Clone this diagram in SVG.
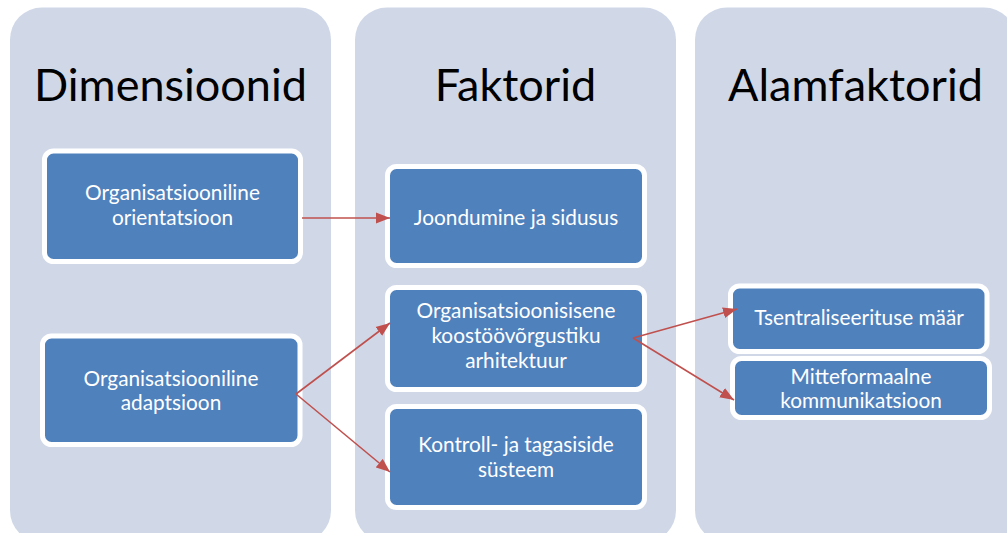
<svg xmlns="http://www.w3.org/2000/svg" width="1007" height="533" viewBox="0 0 1007 533">
<style>
.col{fill:#d0d8e8}
.title{font-family:Lato,"Open Sans",sans-serif;font-size:45px;fill:#000;text-anchor:middle}
.box{fill:#4f81bd;stroke:#fff;stroke-width:5}
.lbl{font-family:Lato,"Open Sans",sans-serif;font-size:20.8px;fill:#fff;text-anchor:middle}
.con{stroke:#c0504d;stroke-width:1.6;fill:none;marker-end:url(#ah)}
</style>
<defs>
<marker id="ah" markerUnits="userSpaceOnUse" markerWidth="14" markerHeight="12" refX="14" refY="6" orient="auto">
<path d="M0,0.5 L14,6 L0,11.5 Z" fill="#c0504d"/>
</marker>
</defs>
<rect width="1007" height="533" fill="#fff"/>
<g id="col-dimensioonid">
<rect class="col" x="10" y="7.5" width="321" height="535" rx="32"/>
<text class="title" x="170.5" y="101">Dimensioonid</text>
</g>
<g id="col-faktorid">
<rect class="col" x="355" y="7.5" width="321" height="535" rx="32"/>
<text class="title" x="515.5" y="101">Faktorid</text>
</g>
<g id="col-alamfaktorid">
<rect class="col" x="695" y="7.5" width="321" height="535" rx="32"/>
<text class="title" x="855.5" y="101">Alamfaktorid</text>
</g>
<g id="node-orientatsioon">
<rect class="box" x="44.5" y="151" width="256" height="110.5" rx="9"/>
<text class="lbl" x="172.5" y="200">Organisatsiooniline</text>
<text class="lbl" x="172.5" y="225">orientatsioon</text>
</g>
<g id="node-adaptsioon">
<rect class="box" x="42.5" y="336" width="257.5" height="108.5" rx="9"/>
<text class="lbl" x="171" y="386">Organisatsiooniline</text>
<text class="lbl" x="171" y="410">adaptsioon</text>
</g>
<g id="node-joondumine">
<rect class="box" x="387.5" y="166.5" width="257" height="99" rx="9"/>
<text class="lbl" x="516" y="225">Joondumine ja sidusus</text>
</g>
<g id="node-arhitektuur">
<rect class="box" x="387.5" y="287.5" width="257" height="102" rx="9"/>
<text class="lbl" x="516" y="318">Organisatsioonisisene</text>
<text class="lbl" x="516" y="343">koostöövõrgustiku</text>
<text class="lbl" x="516" y="368">arhitektuur</text>
</g>
<g id="node-kontroll">
<rect class="box" x="387.5" y="406.5" width="257" height="101" rx="9"/>
<text class="lbl" x="516" y="452">Kontroll- ja tagasiside</text>
<text class="lbl" x="516" y="477">süsteem</text>
</g>
<g id="node-tsentraliseeritus">
<rect class="box" x="730.5" y="286" width="256.5" height="65.5" rx="9"/>
<text class="lbl" x="859" y="325">Tsentraliseerituse määr</text>
</g>
<g id="node-mitteformaalne">
<rect class="box" x="732.5" y="358.5" width="257" height="59" rx="9"/>
<text class="lbl" x="861" y="384">Mitteformaalne</text>
<text class="lbl" x="861" y="408">kommunikatsioon</text>
</g>
<g id="connectors">
<line class="con" x1="302" y1="218" x2="390" y2="218"/>
<line class="con" x1="296" y1="394" x2="390" y2="323"/>
<line class="con" x1="296" y1="394" x2="390" y2="472"/>
<line class="con" x1="633" y1="338" x2="737" y2="309"/>
<line class="con" x1="633" y1="338" x2="734" y2="400"/>
</g>
</svg>
